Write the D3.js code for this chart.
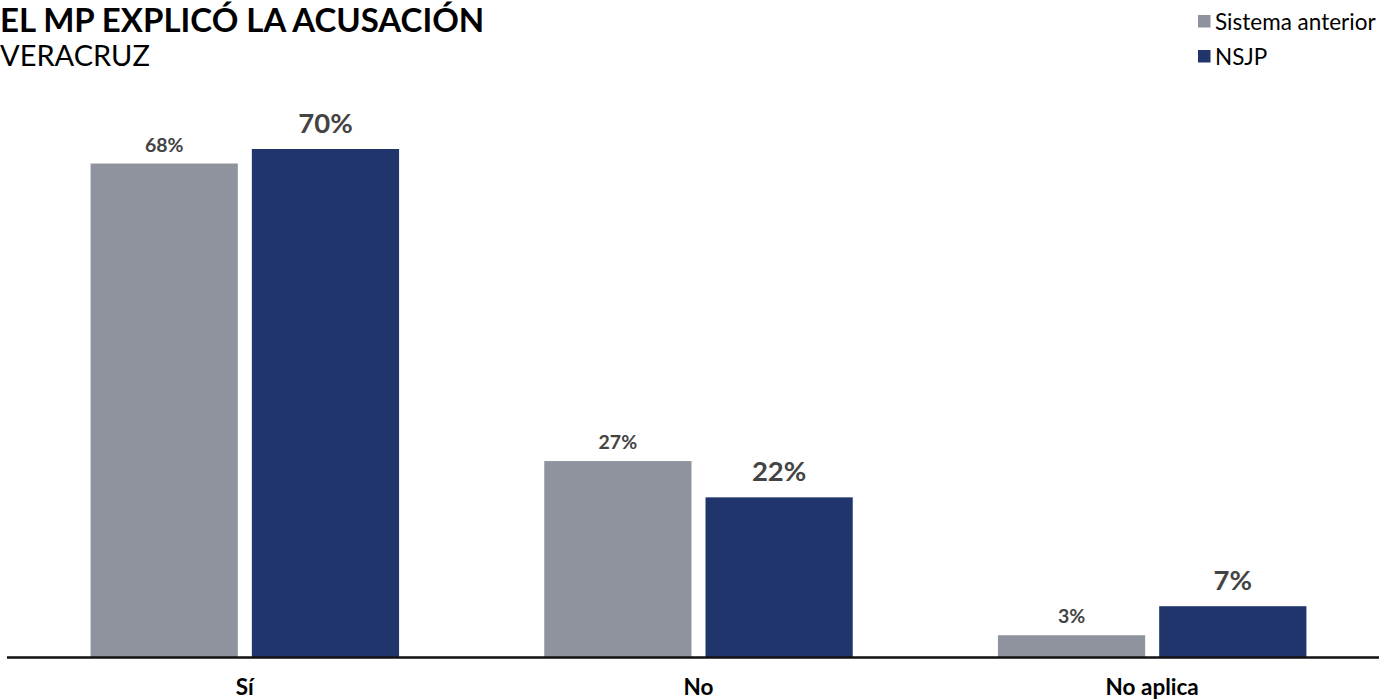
<!DOCTYPE html>
<html><head><meta charset="utf-8">
<script src="https://cdn.jsdelivr.net/npm/d3@7"></script>
<style>body{margin:0;background:#fff;} svg{display:block;font-family:Lato,"Open Sans",sans-serif;}</style>
</head><body>
<svg id="c" width="1379" height="700"></svg>
<script>
const categories = ["Sí", "No", "No aplica"];
const seriesNames = ["Sistema anterior", "NSJP"];
const sistemaAnterior = [68, 27, 3];
const nsjp = [70, 22, 7];
const colors = ["#8f939e", "#20356b"];

const svg = d3.select("#c");
const baseY = 657;
const x0 = d3.scaleBand().domain(categories).range([18, 1379]).paddingInner(0.32).paddingOuter(0.16);
const x1 = d3.scaleBand().domain(seriesNames).range([0, x0.bandwidth()]).paddingInner(0.087);
const y = d3.scaleLinear().domain([0, 70]).range([baseY, 149]);

const seriesVals = [sistemaAnterior, nsjp];
const data = [];
categories.forEach((c, i) => seriesNames.forEach((s, j) => data.push({c, s, j, v: seriesVals[j][i]})));

svg.selectAll("rect.bar").data(data).enter().append("rect")
  .attr("class", "bar")
  .attr("x", d => x0(d.c) + x1(d.s))
  .attr("y", d => y(d.v))
  .attr("width", x1.bandwidth())
  .attr("height", d => baseY - y(d.v))
  .attr("fill", d => colors[d.j]);

svg.selectAll("text.val").data(data).enter().append("text")
  .attr("x", d => x0(d.c) + x1(d.s) + x1.bandwidth() / 2)
  .attr("y", d => y(d.v) - (d.j === 0 ? 12 : 16))
  .attr("text-anchor", "middle")
  .attr("font-weight", "bold")
  .attr("font-size", d => d.j === 0 ? 19.5 : 27.5)
  .attr("fill", "#444")
  .text(d => d.v + "%");

// axis
const xAxis = d3.axisBottom(x0).tickSize(0).tickPadding(0);
const ax = svg.append("g").attr("transform", `translate(0,${baseY})`).call(xAxis);
ax.select(".domain").remove();
ax.selectAll("text").attr("font-family", "Lato, sans-serif").attr("font-size", 22.5)
  .attr("font-weight", "bold").attr("fill", "#000").attr("dy", 0).attr("y", 38);
svg.append("line").attr("x1", 7).attr("x2", 1379).attr("y1", baseY + 0.5).attr("y2", baseY + 0.5)
  .attr("stroke", "#111").attr("stroke-width", 2.5);

// title
svg.append("text").attr("x", 0).attr("y", 32).attr("font-size", 33).attr("font-weight", "bold")
  .attr("fill", "#000").text("EL MP EXPLICÓ LA ACUSACIÓN");
svg.append("text").attr("x", 0).attr("y", 66).attr("font-size", 29)
  .attr("fill", "#000").text("VERACRUZ");

// legend
const lg = svg.append("g").selectAll("g").data(seriesNames).enter().append("g")
  .attr("transform", (d, i) => `translate(1198,${15 + i * 35})`);
lg.append("rect").attr("width", 12.5).attr("height", 12.5).attr("fill", (d, i) => colors[i]);
lg.append("text").attr("x", 17).attr("y", 15).attr("font-size", 22.5).attr("fill", "#000").text(d => d);
</script>
</body></html>
